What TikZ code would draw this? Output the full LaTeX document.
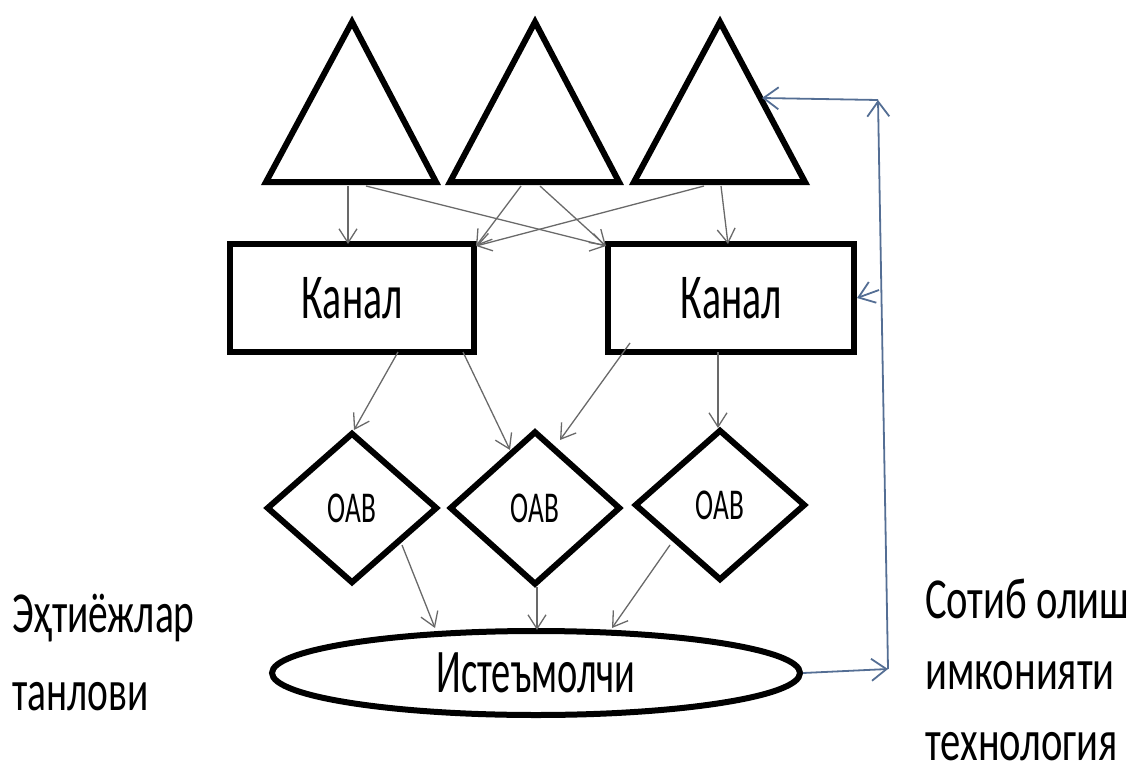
\documentclass[tikz,border=0pt]{standalone}
\usepackage{fontspec}
\usetikzlibrary{shapes.geometric,arrows.meta}
\newfontfamily\cf[FakeStretch=0.62]{Carlito}
\newfontfamily\cfleft[FakeStretch=0.68]{Carlito}
\newfontfamily\cfright[FakeStretch=0.70]{Carlito}
\definecolor{linkgray}{RGB}{105,105,105}
\definecolor{loopblue}{RGB}{84,110,148}
\begin{document}
\begin{tikzpicture}[x=1pt,y=-1pt,
  shapeline/.style={draw=black,line width=6pt,fill=white},
  boxnode/.style={shapeline,rectangle,inner sep=0pt},
  diamondnode/.style={shapeline,diamond,inner sep=0pt,minimum width=171pt,minimum height=151pt},
  ellnode/.style={shapeline,ellipse,inner sep=0pt},
  link/.style={draw=linkgray,line width=1.3pt,-{Straight Barb[length=14pt,width=18pt,line width=1.3pt]}},
  loop/.style={draw=loopblue,line width=1.8pt},
  looptip/.style={loop,-{Straight Barb[length=15pt,width=22pt,line width=1.8pt]}},
  lefttext/.style={anchor=base west,inner sep=0pt,font=\cfleft\fontsize{58}{60}\selectfont},
  righttext/.style={anchor=base west,inner sep=0pt,font=\cfright\fontsize{58}{60}\selectfont}
]
\useasboundingbox (0,0) rectangle (1129,773);

% suppliers (triangles)
\draw[shapeline,line join=miter] (266,182) -- (352,22) -- (436,182) -- cycle;
\draw[shapeline,line join=miter] (450,182) -- (535,22) -- (619,182) -- cycle;
\draw[shapeline,line join=miter] (634,182) -- (720,22) -- (805,182) -- cycle;
\coordinate (t1a) at (348,186);
\coordinate (t1b) at (366,186);
\coordinate (t2a) at (521,186);
\coordinate (t2b) at (540,186);
\coordinate (t3a) at (704,186);
\coordinate (t3b) at (721,186);
\coordinate (t3side) at (762,98);

% channels
\node[boxnode,minimum width=244pt,minimum height=108pt] (k1) at (352,298)
  {\cf\fontsize{64}{66}\selectfont Канал};
\node[boxnode,minimum width=246pt,minimum height=108pt] (k2) at (731,298)
  {\cf\fontsize{64}{66}\selectfont Канал};

% outlets
\node[diamondnode] (d1) at (352,508) {\cf\fontsize{44}{46}\selectfont OAB};
\node[diamondnode,minimum height=154pt] (d2) at (535,508) {\cf\fontsize{44}{46}\selectfont OAB};
\node[diamondnode] (d3) at (720,505) {\cf\fontsize{44}{46}\selectfont OAB};

% consumer
\node[ellnode,minimum width=528pt,minimum height=84pt] (c) at (536,673)
  {\cf\fontsize{62}{64}\selectfont Истеъмолчи};

% side captions
\node[lefttext] (need1) at (12,632) {Эҳтиёжлар};
\node[lefttext] (need2) at (12,710) {танлови};
\node[righttext] (buy1) at (925,618) {Сотиб олиш};
\node[righttext] (buy2) at (925,689) {имконияти};
\node[righttext] (buy3) at (925,760) {технология};

% supplier -> channel
\coordinate (k1top) at (348,244);
\coordinate (k1tr) at (476,246);
\coordinate (k2tl) at (606,246);
\coordinate (k2top) at (728,244);
\draw[link] (t1a) -- (k1top);
\draw[link] (t1b) -- (k2tl);
\draw[link] (t2a) -- (k1tr);
\draw[link] (t2b) -- (k2tl);
\draw[link] (t3a) -- (k1tr);
\draw[link] (t3b) -- (k2top);

% channel -> outlet
\coordinate (k1b1) at (398,352);
\coordinate (k1b2) at (463,352);
\coordinate (k2b1) at (630,343);
\coordinate (k2b2) at (718,352);
\coordinate (d1top) at (354,430);
\coordinate (d2l) at (510,450);
\coordinate (d2r) at (560,440);
\coordinate (d3top) at (718,428);
\draw[link] (k1b1) -- (d1top);
\draw[link] (k1b2) -- (d2l);
\draw[link] (k2b1) -- (d2r);
\draw[link] (k2b2) -- (d3top);

% outlet -> consumer
\coordinate (d1o) at (402,545);
\coordinate (d2o) at (537,587);
\coordinate (d3o) at (670,545);
\coordinate (c1) at (435,628);
\coordinate (c2) at (537,630);
\coordinate (c3) at (612,628);
\draw[link] (d1o) -- (c1);
\draw[link] (d2o) -- (c2);
\draw[link] (d3o) -- (c3);

% feedback loop
\coordinate (fb0) at (888,669);
\coordinate (fb1) at (878,100);
\coordinate (fbk) at (879,290);
\draw[looptip] (c.east) -- (fb0);
\draw[looptip] (fb0) -- (fb1);
\draw[looptip] (fb1) -- (t3side);
\draw[looptip] (fbk) -- (k2.east);
\end{tikzpicture}
\end{document}
